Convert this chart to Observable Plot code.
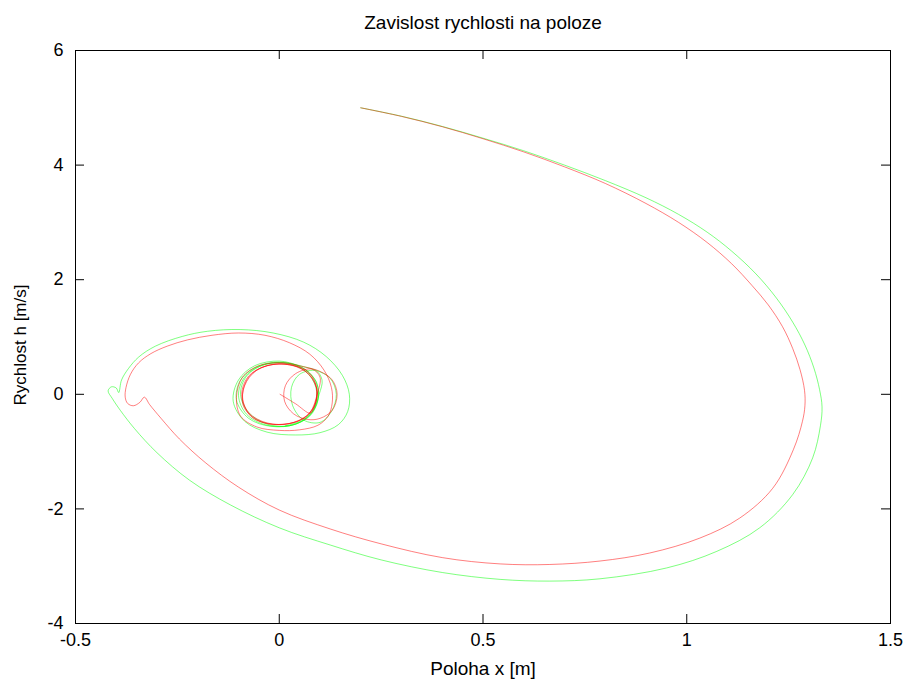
<!DOCTYPE html>
<html>
<head>
<meta charset="utf-8">
<script src="https://cdn.jsdelivr.net/npm/d3@7"></script>
<script src="https://cdn.jsdelivr.net/npm/@observablehq/plot@0.6"></script>
<style>
  html, body { margin: 0; padding: 0; background: #fff; }
  #chart { width: 905px; height: 680px; }
</style>
</head>
<body>
<div id="chart"></div>
<script>
const titleText = "Zavislost rychlosti na poloze";
const xLabelText = "Poloha x [m]";
const yLabelText = "Rychlost h [m/s]";
const xTicks = [-0.5, 0, 0.5, 1, 1.5];
const yTicks = [-4, -2, 0, 2, 4, 6];

// Series 1 (red): [poloha x, rychlost h]
const redPath = [
  [0.20,5.00],[0.30,4.85],[0.40,4.67],[0.50,4.46],[0.60,4.23],[0.70,3.97],[0.80,3.68],[0.90,3.33],
  [0.98,3.00],[1.05,2.65],[1.11,2.28],[1.16,1.90],[1.20,1.56],[1.235,1.18],[1.26,0.80],[1.278,0.43],
  [1.289,0.07],[1.290,-0.20],[1.284,-0.47],[1.262,-0.96],[1.211,-1.64],[1.13,-2.16],[1.032,-2.51],
  [0.909,-2.77],[0.787,-2.91],[0.664,-2.97],[0.542,-2.96],[0.40,-2.85],[0.25,-2.61],[0.125,-2.35],
  [0.0,-2.02],[-0.10,-1.62],[-0.18,-1.20],[-0.245,-0.78],[-0.29,-0.42],[-0.318,-0.18],[-0.331,-0.05],
  [-0.342,-0.14],[-0.358,-0.20],[-0.372,-0.16],[-0.378,-0.05],[-0.376,0.12],[-0.365,0.35],[-0.345,0.55],
  [-0.315,0.71],[-0.275,0.84],[-0.225,0.95],[-0.165,1.03],[-0.10,1.07],[-0.035,1.03],[0.025,0.90],
  [0.075,0.70],[0.11,0.42],[0.128,0.12],[0.13,-0.15],[0.12,-0.38],[0.095,-0.54],[0.05,-0.62],
  [0.0,-0.63],[-0.055,-0.57],[-0.095,-0.38],[-0.105,-0.05],[-0.09,0.30],[-0.05,0.50],[0.01,0.55],
  [0.06,0.48],
  [0.10,0.40],[0.13,0.25],[0.142,0.0],[0.13,-0.28],[0.10,-0.42],[0.07,-0.44],[0.035,-0.34],
  [0.013,-0.12],[0.015,0.15],[0.04,0.36],[0.08,0.44],
  [0.10,0.30],[0.093,0.0],[0.075,-0.32],[0.035,-0.49],[-0.02,-0.52],[-0.07,-0.38],[-0.09,-0.05],
  [-0.075,0.30],[-0.035,0.49],[0.02,0.52],[0.07,0.40],[0.092,0.10],[0.085,-0.22],[0.055,-0.44],
  [0.0,-0.53],[-0.055,-0.45],[-0.088,-0.20],[-0.085,0.15],[-0.055,0.42],[0.0,0.53],[0.055,0.44],
  [0.088,0.20],[0.09,-0.12],[0.068,-0.38],[0.025,-0.51],[-0.03,-0.50],[-0.075,-0.32],[-0.092,0.0],
  [-0.075,0.32],[-0.03,0.50],[0.025,0.52],[0.07,0.37],[0.093,0.05],[0.085,-0.24],[0.076,-0.33],
  [0.04,-0.165],[0.002,0.0]
];

// Series 2 (green): [poloha x, rychlost h]
const greenPath = [
  [0.20,5.00],[0.30,4.853],[0.40,4.675],[0.50,4.47],[0.60,4.25],[0.70,4.00],[0.80,3.73],[0.90,3.43],
  [0.98,3.14],[1.05,2.83],[1.11,2.50],[1.17,2.10],[1.22,1.68],[1.26,1.26],[1.29,0.86],[1.312,0.46],
  [1.326,0.08],[1.332,-0.22],[1.328,-0.55],[1.309,-1.11],[1.26,-1.75],[1.179,-2.33],[1.074,-2.74],
  [0.951,-3.03],[0.787,-3.22],[0.664,-3.26],[0.542,-3.23],[0.40,-3.11],[0.25,-2.89],[0.125,-2.63],
  [0.0,-2.33],[-0.12,-1.93],[-0.22,-1.50],[-0.30,-1.02],[-0.355,-0.60],[-0.39,-0.28],[-0.41,-0.07],
  [-0.42,0.06],[-0.412,0.13],[-0.40,0.11],[-0.394,0.03],
  [-0.387,0.25],[-0.37,0.45],[-0.345,0.65],[-0.304,0.84],[-0.238,1.01],[-0.176,1.10],[-0.096,1.13],
  [-0.015,1.07],[0.06,0.91],[0.115,0.66],[0.155,0.33],[0.172,0.0],[0.168,-0.30],[0.145,-0.53],
  [0.10,-0.67],[0.04,-0.71],[-0.03,-0.66],[-0.085,-0.47],[-0.113,-0.12],[-0.10,0.25],[-0.06,0.50],
  [0.0,0.58],[0.05,0.50],
  [0.09,0.42],[0.125,0.28],[0.14,0.0],[0.128,-0.30],[0.10,-0.49],[0.06,-0.45],[0.033,-0.20],
  [0.03,0.12],[0.05,0.35],[0.09,0.41],
  [0.105,0.25],[0.098,0.0],[0.08,-0.32],[0.04,-0.52],[-0.02,-0.56],[-0.075,-0.42],[-0.105,-0.10],
  [-0.095,0.25],[-0.055,0.48],[0.0,0.56],[0.055,0.47],[0.09,0.22],[0.095,-0.10],[0.075,-0.38],
  [0.03,-0.54],[-0.03,-0.54],[-0.08,-0.35],[-0.10,-0.02],[-0.085,0.30],[-0.045,0.50],[0.01,0.55],
  [0.06,0.45],[0.092,0.20],[0.094,-0.12],[0.07,-0.40],[0.025,-0.55],[-0.03,-0.52],[-0.075,-0.32],
  [-0.095,0.0],[-0.08,0.32],[-0.035,0.52],[0.02,0.54],[0.065,0.40],[0.09,0.12],[0.088,-0.20],
  [0.06,-0.44],[0.015,-0.55]
];

const W = 905, H = 680;
const mL = 75, mR = 15, mT = 50, mB = 57;
const frameW = W - mL - mR, frameH = H - mT - mB;
const tickLen = 9;
const font = "'Liberation Sans', Arial, Helvetica, sans-serif";

const chart = Plot.plot({
  width: W,
  height: H,
  marginLeft: mL,
  marginRight: mR,
  marginTop: mT,
  marginBottom: mB,
  style: {fontFamily: font, fontSize: "18px", color: "#000", background: "#fff"},
  x: {domain: [-0.5, 1.5]},
  y: {domain: [-4, 6]},
  marks: [
    Plot.line(greenPath, {x: d => d[0], y: d => d[1], stroke: "#00ff00", strokeWidth: 1, strokeOpacity: 0.5, curve: "catmull-rom"}),
    Plot.line(redPath, {x: d => d[0], y: d => d[1], stroke: "#ff0000", strokeWidth: 1, strokeOpacity: 0.5, curve: "catmull-rom"}),
    // inward ticks on all four sides
    Plot.tickX(xTicks, {x: d => d, insetTop: frameH - tickLen, stroke: "#000"}),
    Plot.tickX(xTicks, {x: d => d, insetBottom: frameH - tickLen, stroke: "#000"}),
    Plot.tickY(yTicks, {y: d => d, insetRight: frameW - tickLen, stroke: "#000"}),
    Plot.tickY(yTicks, {y: d => d, insetLeft: frameW - tickLen, stroke: "#000"}),
    Plot.frame({stroke: "#000"}),
    Plot.axisX(xTicks, {anchor: "bottom", tickSize: 0, tickPadding: 10, fontSize: 18, label: null, tickFormat: d => String(d)}),
    Plot.axisY(yTicks, {anchor: "left", tickSize: 0, tickPadding: 12, fontSize: 18, label: null, tickFormat: d => String(d)}),
    Plot.text([titleText], {frameAnchor: "top", lineAnchor: "middle", dy: -28, fontSize: 19, fill: "#000"}),
    Plot.text([xLabelText], {frameAnchor: "bottom", lineAnchor: "middle", dy: 45, fontSize: 19, fill: "#000"}),
    Plot.text([yLabelText], {frameAnchor: "left", textAnchor: "middle", lineAnchor: "middle", dx: -55, dy: 8, rotate: -90, fontSize: 17, fill: "#000"})
  ]
});
document.getElementById("chart").appendChild(chart);
</script>
</body>
</html>
